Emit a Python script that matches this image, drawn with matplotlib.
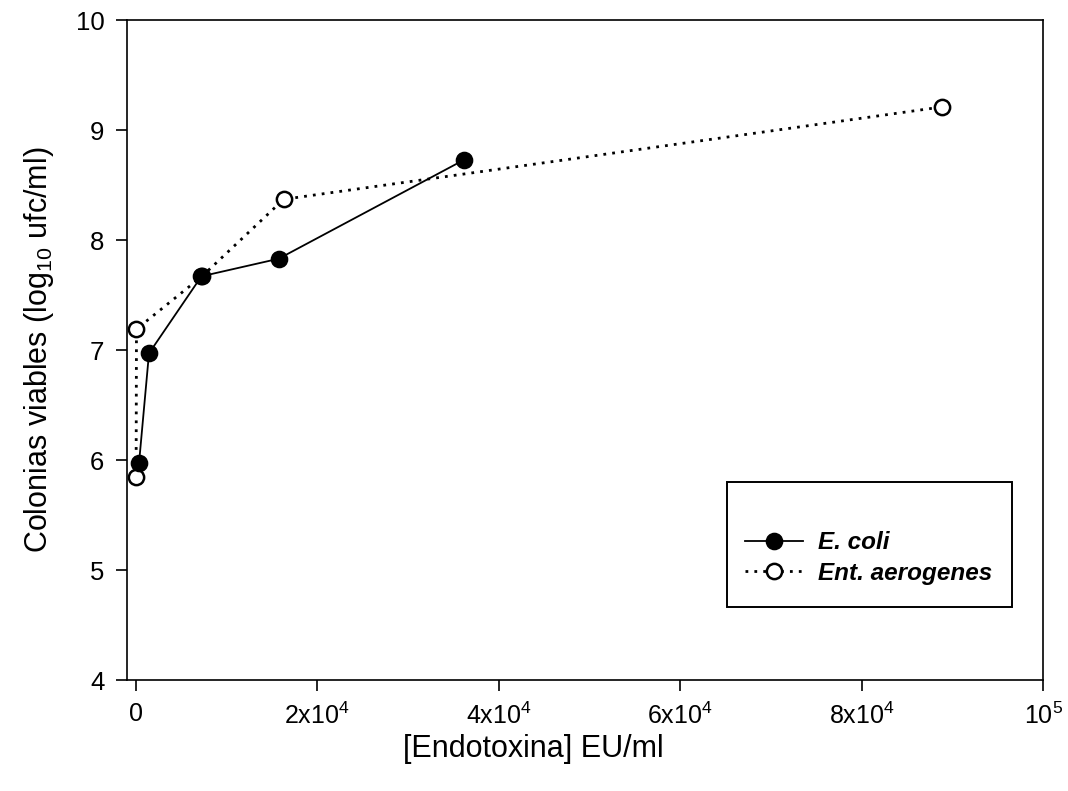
import matplotlib
matplotlib.use("Agg")
import matplotlib.pyplot as plt
from matplotlib.patches import Rectangle
from matplotlib import font_manager

plt.rcParams['font.family'] = ['Liberation Sans', 'DejaVu Sans']
plt.rcParams['mathtext.default'] = 'regular'

# Data
ecoli_x = [360, 1460, 7236, 15750, 36200]
ecoli_y = [5.97, 6.97, 7.67, 7.83, 8.73]
ent_x = [40, 80, 7300, 16300, 88850]
ent_y = [5.85, 7.19, 7.67, 8.37, 9.21]
series_labels = ["E. coli", "Ent. aerogenes"]
xticks = [0, 20000, 40000, 60000, 80000, 100000]
xticklabels = ["0", "2x10$^{4}$", "4x10$^{4}$", "6x10$^{4}$", "8x10$^{4}$", "10$^{5}$"]
yticks = [4, 5, 6, 7, 8, 9, 10]

names = {f.name for f in font_manager.fontManager.ttflist}
narrow = 'Liberation Sans Narrow' if 'Liberation Sans Narrow' in names else 'Liberation Sans'

fig = plt.figure(figsize=(10.68, 7.91), dpi=100)
ax = fig.add_axes([0.1186, 0.1403, 0.8583, 0.8344])

ax.plot(ecoli_x, ecoli_y, '-', color='black', lw=1.3, marker='o', ms=11.5,
        mfc='black', mec='black', mew=1.2, label=series_labels[0], zorder=3)
ax.plot(ent_x, ent_y, color='black', lw=2.0, ls=(0, (1, 2.2)), marker='o', ms=11,
        mfc='white', mec='black', mew=1.8, label=series_labels[1], zorder=2)

ax.set_xlim(-1000, 100000)
ax.set_ylim(4, 10)
ax.set_xticks(xticks)
ax.set_xticklabels(xticklabels, family=[narrow, 'Liberation Sans'], fontsize=18)
ax.set_yticks(yticks)
ax.tick_params(direction='out', length=8, width=1.2, pad=8)
ax.tick_params(axis='y', labelsize=18.5)
for s in ax.spines.values():
    s.set_linewidth(1.2)

ax.set_xlabel("[Endotoxina] EU/ml", fontsize=22, va='center')
ax.xaxis.set_label_coords(0.444, -0.105)
ax.set_ylabel("Colonias viables (log$_{10}$ ufc/ml)", fontsize=22, va='center')
ax.yaxis.set_label_coords(-0.096, 0.5)

# Legend frame drawn separately
rect = Rectangle((0.655, 0.110), 0.311, 0.190, transform=ax.transAxes,
                 fill=False, edgecolor='black', lw=1.4, zorder=5)
ax.add_patch(rect)
leg = ax.legend(loc='center left', bbox_to_anchor=(0.6745, 0.185), frameon=False,
                prop={'size': 17.5, 'weight': 'bold', 'style': 'italic'},
                handlelength=2.4, handletextpad=0.6, labelspacing=0.3,
                numpoints=1, borderpad=0, borderaxespad=0)

fig.savefig("out.png", dpi=100)
